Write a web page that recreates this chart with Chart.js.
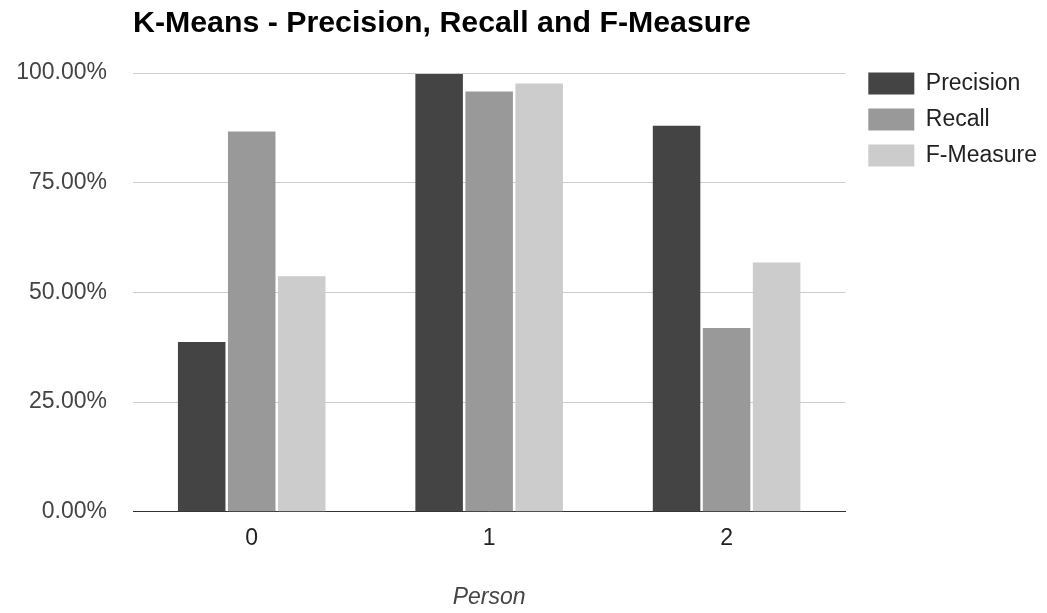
<!DOCTYPE html>
<html>
<head>
<meta charset="utf-8">
<script src="https://cdn.jsdelivr.net/npm/chart.js@4.4.1/dist/chart.umd.min.js"></script>
<style>
  body { margin: 0; background: #fff; }
  #wrap { width: 1047px; height: 613px; }
</style>
</head>
<body>
<div id="wrap"><canvas id="chartBars" width="1047" height="613"></canvas></div>
<script>
var persons = ['0', '1', '2'];
var precision = [38.7, 99.8, 88.0];
var recall = [86.7, 95.8, 41.9];
var fMeasure = [53.7, 97.6, 56.8];
var yTicks = [0, 25, 50, 75, 100];

var fontFamily = 'Arial, "Liberation Sans", sans-serif';

var databar = {
    labels: persons,
    datasets: [
        { label: 'Precision', data: precision, backgroundColor: '#444444' },
        { label: 'Recall', data: recall, backgroundColor: '#999999' },
        { label: 'F-Measure', data: fMeasure, backgroundColor: '#cccccc' }
    ]
};

var optionbar = {
    responsive: false,
    animation: false,
    layout: { padding: 0 },
    datasets: {
        bar: { categoryPercentage: 0.632, barPercentage: 0.95 }
    },
    plugins: {
        title: {
            display: true,
            text: 'K-Means - Precision, Recall and F-Measure',
            align: 'start',
            fullSize: false,
            color: '#000',
            font: { family: fontFamily, size: 30.3, weight: 'bold' },
            padding: { top: 5.5, bottom: 31.2 }
        },
        legend: {
            position: 'right',
            align: 'start',
            fullSize: true,
            maxWidth: 192,
            title: { display: true, text: ' ', font: { size: 10 }, padding: { top: 47, bottom: 0 } },
            labels: {
                boxWidth: 46,
                boxHeight: 22,
                padding: 13,
                color: '#222',
                font: { family: fontFamily, size: 23 }
            }
        },
        tooltip: { enabled: false }
    },
    scales: {
        x: {
            grid: { display: false, drawTicks: false },
            border: { display: true, color: '#333', width: 1 },
            ticks: { color: '#222', padding: 13, font: { family: fontFamily, size: 23 } },
            title: {
                display: true,
                text: 'Person',
                color: '#444',
                font: { family: fontFamily, size: 23, style: 'italic' },
                padding: { top: 18, bottom: 2 }
            }
        },
        y: {
            min: 0,
            max: 100,
            afterBuildTicks: function (scale) {
                scale.ticks = yTicks.map(function (v) { return { value: v }; });
            },
            afterFit: function (scale) { scale.width = 133; },
            grid: { color: '#cccccc', drawTicks: false },
            border: { display: false },
            ticks: {
                color: '#444',
                padding: 26,
                font: { family: fontFamily, size: 23 },
                callback: function (v) { return v.toFixed(2) + '%'; }
            }
        },
        // spacer between the plot and the legend
        gap: {
            type: 'linear',
            position: 'right',
            afterFit: function (scale) { scale.width = 10; },
            grid: { display: false },
            border: { display: false },
            ticks: { display: false }
        }
    }
};

var ctx = document.getElementById('chartBars');
var myBarChart = new Chart(ctx, {
    type: 'bar',
    data: databar,
    options: optionbar
});
</script>
</body>
</html>
